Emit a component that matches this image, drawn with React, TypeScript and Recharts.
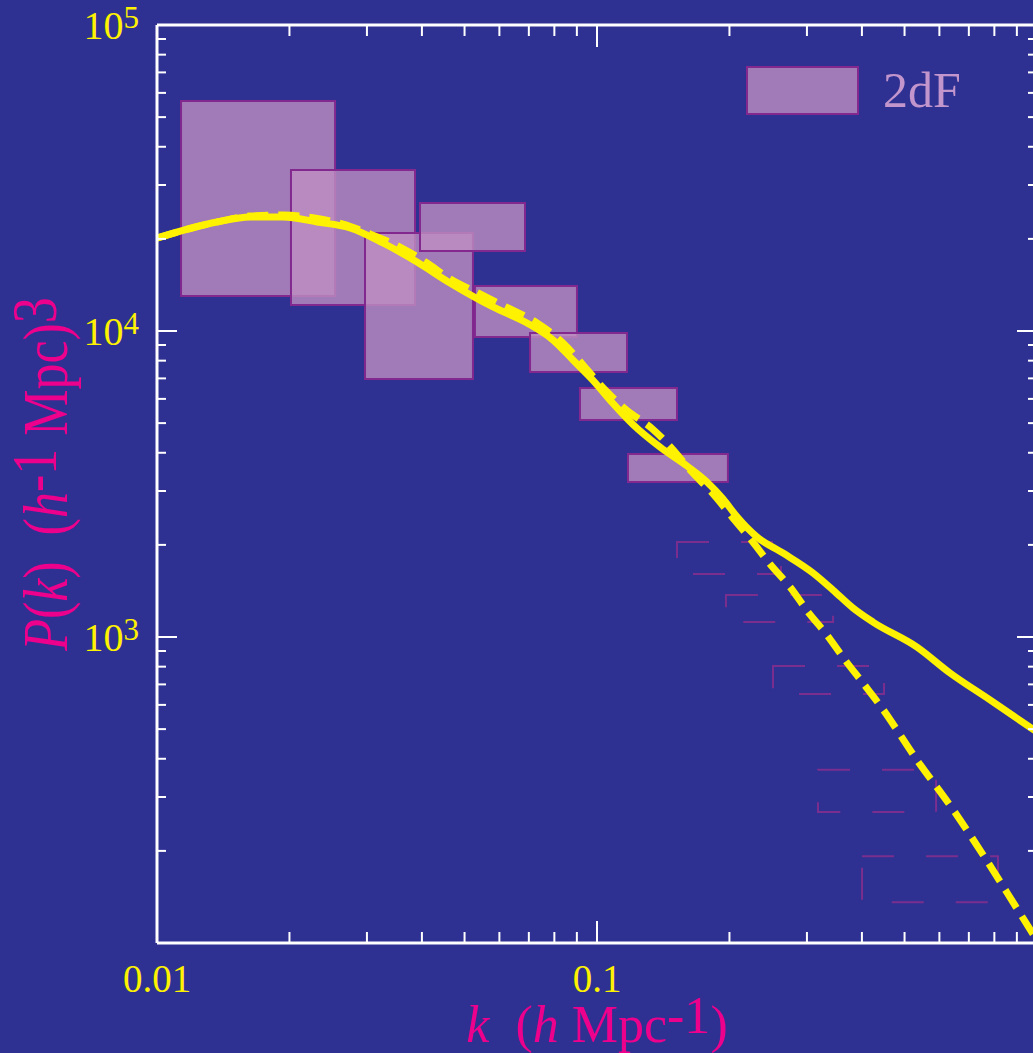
import React from 'react';
import { LineChart, Line, XAxis, YAxis, ReferenceArea, Legend, Label } from 'recharts';

const BG = '#2E3192';
const YELLOW = '#FFF200';
const MAGENTA = '#EC008C';
const FONT = '"Liberation Serif", "Times New Roman", serif';

// model curves, k in h/Mpc, P(k) in (Mpc/h)^3
const solidK = [0.01, 0.01369, 0.01627, 0.01933, 0.0231, 0.02746, 0.03263, 0.03899, 0.04634, 0.05802, 0.06934, 0.07943, 0.08819, 0.09793, 0.1087, 0.1207, 0.139, 0.1602, 0.1778, 0.1933, 0.2081, 0.231, 0.2647, 0.3097, 0.3439, 0.3818, 0.4239, 0.5337, 0.6343, 0.7819, 1.0];
const solidP = [20130, 22710, 23580, 23580, 22710, 21710, 19390, 16810, 14350, 11980, 10620, 9346, 8040, 6900, 5800, 4950, 4178, 3620, 3210, 2830, 2470, 2122, 1881, 1619, 1424, 1244, 1119, 927, 763, 623, 489];

const dashedK = [0.01, 0.01369, 0.01627, 0.01933, 0.02347, 0.02646, 0.03049, 0.03566, 0.04109, 0.04561, 0.0542, 0.06278, 0.07305, 0.08373, 0.09343, 0.1037, 0.117, 0.1334, 0.1481, 0.1635, 0.1836, 0.2027, 0.2251, 0.2472, 0.2746, 0.3017, 0.3332, 0.3662, 0.4023, 0.4443, 0.5337, 0.641, 0.7615, 0.9055, 1.0];
const dashedP = [20130, 22710, 23760, 23940, 23230, 22370, 20750, 18810, 16680, 15020, 13210, 11890, 10620, 9138, 7686, 6480, 5500, 4800, 4130, 3487, 2933, 2467, 2059, 1732, 1457, 1207, 1015, 841, 707, 586, 396, 276, 190, 128, 102];

// 2dF band powers (filled boxes)
const boxKLow = [0.01134, 0.02016, 0.0297, 0.0396, 0.0528, 0.07043, 0.09148, 0.1176];
const boxKHigh = [0.02539, 0.03858, 0.05225, 0.06861, 0.09005, 0.117, 0.152, 0.1984];
const boxPLow = [13010, 12160, 6968, 18250, 9560, 7345, 5120, 3210];
const boxPHigh = [56450, 33590, 20910, 26200, 14030, 9850, 6512, 3963];

// non-linear range (open dashed boxes)
const openKLow = [0.152, 0.1964, 0.2512, 0.3179, 0.4003];
const openKHigh = [0.2619, 0.344, 0.4491, 0.5897, 0.8153];
const openPLow = [1607, 1119, 651, 268, 136];
const openPHigh = [2045, 1372, 804, 368, 192];

const xTicks = [0.01, 0.02, 0.03, 0.04, 0.05, 0.06, 0.07, 0.08, 0.09, 0.1, 0.2, 0.3, 0.4, 0.5, 0.6, 0.7, 0.8, 0.9, 1];
const yTicks = [100, 200, 300, 400, 500, 600, 700, 800, 900, 1000, 2000, 3000, 4000, 5000, 6000, 7000, 8000, 9000, 10000, 20000, 30000, 40000, 50000, 60000, 70000, 80000, 90000, 100000];
const xLabelled = [0.01, 0.1];
const yLabelled = [1000, 10000, 100000];
const legendName = '2dF';

const solidData = solidK.map((k, i) => ({ k, p: solidP[i] }));
const dashedData = dashedK.map((k, i) => ({ k, p: dashedP[i] }));

const isMajor = (v: number) => Math.abs(Math.log10(v) - Math.round(Math.log10(v))) < 1e-6;
const has = (arr: number[], v: number) => arr.some((a) => Math.abs(a - v) / a < 1e-6);

const BottomTick = (props: any) => {
  const { x, y, payload } = props;
  const v = payload.value;
  return (
    <g>
      <line x1={x} y1={y} x2={x} y2={y - (isMajor(v) ? 22 : 11)} stroke="#fff" strokeWidth={2} />
      {has(xLabelled, v) && (
        <text x={x} y={y + 49} textAnchor="middle" fill={YELLOW} fontSize={39} fontFamily={FONT}>
          {String(v)}
        </text>
      )}
    </g>
  );
};

const TopTick = (props: any) => {
  const { x, y, payload } = props;
  return <line x1={x} y1={y} x2={x} y2={y + (isMajor(payload.value) ? 22 : 11)} stroke="#fff" strokeWidth={2} />;
};

const LeftTick = (props: any) => {
  const { x, y, payload } = props;
  const v = payload.value;
  const exp = Math.round(Math.log10(v));
  return (
    <g>
      <line x1={x} y1={y} x2={x + (isMajor(v) ? 20 : 9)} y2={y} stroke="#fff" strokeWidth={2} />
      {has(yLabelled, v) && (
        <text x={x - 18} y={y + 14} textAnchor="end" fill={YELLOW} fontSize={40} fontFamily={FONT}>
          10
          <tspan dy={-11} fontSize={31}>{exp}</tspan>
        </text>
      )}
    </g>
  );
};

const RightTick = (props: any) => {
  const { x, y, payload } = props;
  return <line x1={x} y1={y} x2={x - (isMajor(payload.value) ? 20 : 9)} y2={y} stroke="#fff" strokeWidth={2} />;
};

const XTitle = (props: any) => {
  const { x, y, width } = props.viewBox;
  return (
    <text x={x + width / 2} y={y + 99} textAnchor="middle" fill={MAGENTA} fontSize={52} fontFamily={FONT}>
      <tspan fontStyle="italic">k</tspan>
      <tspan>{'\u00a0\u00a0('}</tspan>
      <tspan fontStyle="italic">h</tspan>
      <tspan>{'\u00a0Mpc'}</tspan>
      <tspan dy={-9}>-1</tspan>
      <tspan dy={9}>)</tspan>
    </text>
  );
};

const YTitle = (props: any) => {
  const { y, height } = props.viewBox;
  const cy = y + height / 2 - 10;
  return (
    <text
      transform={`translate(67, ${cy}) rotate(-90) scale(1, 1.2)`}
      x={0}
      y={0}
      textAnchor="middle"
      fill={MAGENTA}
      fontSize={52}
      fontFamily={FONT}
    >
      <tspan fontStyle="italic">P</tspan>
      <tspan>(</tspan>
      <tspan fontStyle="italic">k</tspan>
      <tspan>{')\u00a0\u00a0('}</tspan>
      <tspan fontStyle="italic">h</tspan>
      <tspan dy={-9}>-1</tspan>
      <tspan dy={9}>{'\u00a0Mpc)'}</tspan>
      <tspan dy={-9}>3</tspan>
    </text>
  );
};

const LegendBox = () => (
  <svg width={260} height={64}>
    <rect x={2} y={7} width={111} height={47} fill="#BE8EC1" fillOpacity={0.8} stroke="#82288F" strokeWidth={2} />
    <text x={138} y={47} fill="#C296CC" fontSize={50} fontFamily={FONT}>
      {legendName}
    </text>
  </svg>
);

const axisLine = { stroke: '#fff', strokeWidth: 3 };

export default function App() {
  return (
    <div style={{ position: 'fixed', left: 0, top: 0, width: 1033, height: 1053, overflow: 'hidden', background: BG }}>
      <LineChart width={1060} height={1053} margin={{ top: 24, right: 22, bottom: 0, left: 0 }}>
        <XAxis
          type="number"
          dataKey="k"
          scale="log"
          domain={[0.01, 1]}
          allowDataOverflow
          ticks={xTicks}
          interval={0}
          tickSize={0}
          tickMargin={0}
          tickLine={false}
          tick={BottomTick}
          height={110}
          axisLine={axisLine}
        >
          <Label content={XTitle} />
        </XAxis>
        <XAxis
          xAxisId="top"
          orientation="top"
          type="number"
          dataKey="k"
          scale="log"
          domain={[0.01, 1]}
          allowDataOverflow
          ticks={xTicks}
          interval={0}
          tickSize={0}
          tickMargin={0}
          tickLine={false}
          tick={TopTick}
          height={1}
          axisLine={axisLine}
        />
        <YAxis
          type="number"
          scale="log"
          domain={[100, 100000]}
          allowDataOverflow
          ticks={yTicks}
          interval={0}
          tickSize={0}
          tickMargin={0}
          tickLine={false}
          tick={LeftTick}
          width={157}
          axisLine={axisLine}
        >
          <Label content={YTitle} />
        </YAxis>
        <YAxis
          yAxisId="right"
          orientation="right"
          type="number"
          scale="log"
          domain={[100, 100000]}
          allowDataOverflow
          ticks={yTicks}
          interval={0}
          tickSize={0}
          tickMargin={0}
          tickLine={false}
          tick={RightTick}
          width={1}
          axisLine={axisLine}
        />
        {boxKLow.map((k1, i) => (
          <ReferenceArea
            key={`b${i}`}
            x1={k1}
            x2={boxKHigh[i]}
            y1={boxPLow[i]}
            y2={boxPHigh[i]}
            fill="#BE8EC1"
            fillOpacity={0.8}
            stroke="#82288F"
            strokeWidth={2}
          />
        ))}
        {openKLow.map((k1, i) => (
          <ReferenceArea
            key={`o${i}`}
            x1={k1}
            x2={openKHigh[i]}
            y1={openPLow[i]}
            y2={openPHigh[i]}
            fill="none"
            fillOpacity={0}
            stroke="#7A2E8E"
            strokeWidth={2}
            strokeDasharray="32 32"
          />
        ))}
        <Line
          data={dashedData}
          dataKey="p"
          type="monotone"
          stroke={YELLOW}
          strokeWidth={7}
          strokeDasharray="21 10"
          dot={false}
          activeDot={false}
          isAnimationActive={false}
        />
        <Line
          data={solidData}
          dataKey="p"
          type="monotone"
          stroke={YELLOW}
          strokeWidth={7}
          dot={false}
          activeDot={false}
          isAnimationActive={false}
        />
        <Legend
          layout="vertical"
          align="center"
          verticalAlign="middle"
          wrapperStyle={{ position: 'absolute', left: 745, top: 60, width: 260, height: 64 }}
          content={LegendBox}
        />
      </LineChart>
    </div>
  );
}
